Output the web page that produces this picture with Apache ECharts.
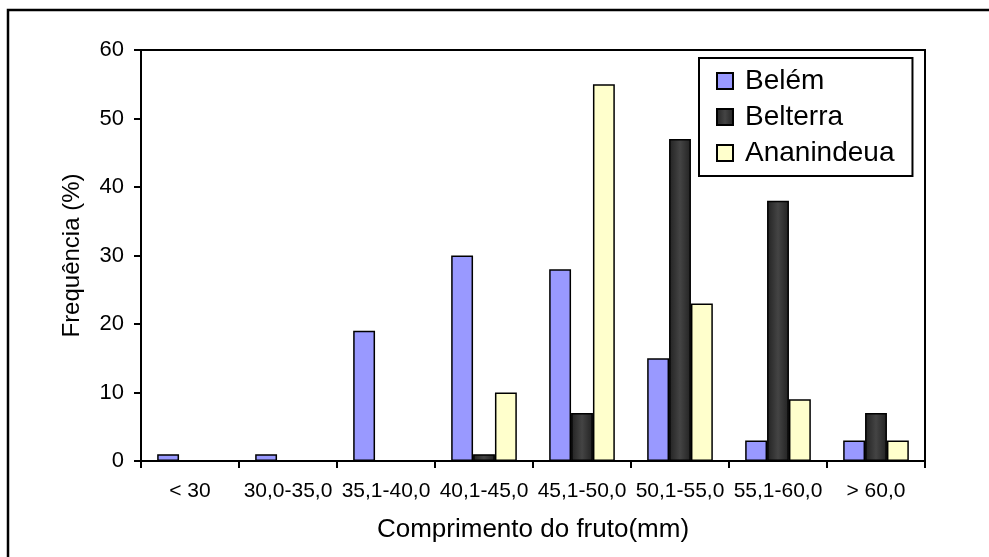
<!DOCTYPE html>
<html>
<head>
<meta charset="utf-8">
<script src="https://cdn.jsdelivr.net/npm/echarts@6/dist/echarts.min.js"></script>
<style>
html,body{margin:0;padding:0;background:#fff;}
#chart{width:989px;height:557px;}
</style>
</head>
<body>
<div id="chart"></div>
<script>
var categories = ['< 30', '30,0-35,0', '35,1-40,0', '40,1-45,0', '45,1-50,0', '50,1-55,0', '55,1-60,0', '> 60,0'];
var belem = [1, 1, 19, 30, 28, 15, 3, 3];
var belterra = [0, 0, 0, 1, 7, 47, 38, 7];
var ananindeua = [0, 0, 0, 10, 55, 23, 9, 3];
var yTicks = { min: 0, max: 60, interval: 10 };

var FONT = "'Liberation Sans', Arial, sans-serif";
var chart = echarts.init(document.getElementById('chart'), null, { renderer: 'canvas' });

function barSeries(name, data, color) {
  return {
    name: name,
    type: 'bar',
    data: data,
    barGap: '0%',
    barCategoryGap: '33%',
    itemStyle: { color: color, borderColor: '#000', borderWidth: 1.5 },
    emphasis: { disabled: true }
  };
}

var darkGrad = new echarts.graphic.LinearGradient(0, 0, 1, 0, [
  { offset: 0, color: '#222' },
  { offset: 0.5, color: '#444' },
  { offset: 1, color: '#222' }
]);

chart.setOption({
  animation: false,
  backgroundColor: '#fff',
  textStyle: { fontFamily: FONT, color: '#000' },
  graphic: [{
    type: 'rect',
    shape: { x: 8, y: 10, width: 1000, height: 600 },
    style: { fill: 'none', stroke: '#000', lineWidth: 2.5 },
    z: -1
  }],
  grid: {
    left: 141, top: 50, right: 64, bottom: 96,
    show: true, borderColor: '#000', borderWidth: 2, backgroundColor: '#fff'
  },
  legend: {
    orient: 'vertical',
    left: 699, top: 58,
    padding: [9, 18, 9, 17],
    backgroundColor: '#fff',
    borderColor: '#000', borderWidth: 2,
    borderRadius: 0,
    itemWidth: 16, itemHeight: 16, itemGap: 8,
    icon: 'rect',
    selectedMode: false,
    textStyle: { fontFamily: FONT, fontSize: 28, color: '#000', lineHeight: 28, padding: [0, 0, 0, 7] },
    data: ['Belém', 'Belterra', 'Ananindeua']
  },
  xAxis: {
    type: 'category',
    data: categories,
    name: 'Comprimento do fruto(mm)',
    nameLocation: 'middle',
    nameGap: 56,
    nameTextStyle: { fontFamily: FONT, fontSize: 26, color: '#000' },
    axisLine: { lineStyle: { color: '#000', width: 2 } },
    axisTick: { show: true, length: 7, inside: false, lineStyle: { color: '#000', width: 2 } },
    axisLabel: { fontFamily: FONT, fontSize: 21, color: '#000', margin: 20, interval: 0 },
    splitLine: { show: false }
  },
  yAxis: {
    type: 'value',
    min: yTicks.min, max: yTicks.max, interval: yTicks.interval,
    name: 'Frequência (%)',
    nameLocation: 'middle',
    nameRotate: 90,
    nameGap: 57,
    nameTextStyle: { fontFamily: FONT, fontSize: 24, color: '#000' },
    axisLine: { show: true, lineStyle: { color: '#000', width: 2 } },
    axisTick: { show: true, length: 7, inside: false, lineStyle: { color: '#000', width: 2 } },
    axisLabel: { fontFamily: FONT, fontSize: 22, color: '#000', margin: 17 },
    splitLine: { show: false }
  },
  series: [
    barSeries('Belém', belem, '#9999ff'),
    barSeries('Belterra', belterra, darkGrad),
    barSeries('Ananindeua', ananindeua, '#ffffcc')
  ]
});
</script>
</body>
</html>
